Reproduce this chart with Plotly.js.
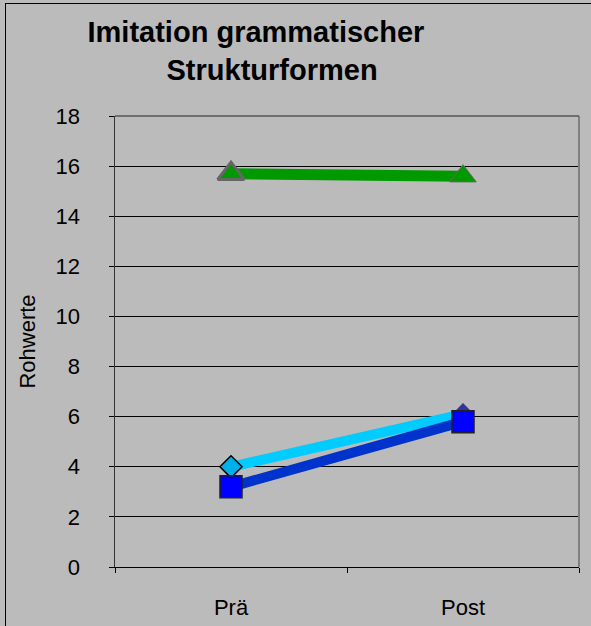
<!DOCTYPE html>
<html>
<head>
<meta charset="utf-8">
<script src="https://cdn.plot.ly/plotly-3.0.1.min.js"></script>
<style>
  html, body { margin: 0; padding: 0; background: #bbbbbb; overflow: hidden; }
  #chart { position: absolute; left: 0; top: 0; width: 591px; height: 626px; }
  #frame { position: absolute; left: 5px; top: 3px; width: 700px; height: 700px; border: 1px solid #000; pointer-events: none; }
</style>
</head>
<body>
<div id="chart"></div>
<div id="frame"></div>
<script>
// Data
const categories = ['Prä', 'Post'];
const seriesGreen = [15.7, 15.6];
const seriesCyan = [4.0, 6.1];
const seriesBlue = [3.2, 5.8];
const yTicks = [0, 2, 4, 6, 8, 10, 12, 14, 16, 18];

const font = 'Liberation Sans, Arial, sans-serif';

const traces = [
  {
    x: categories, y: seriesGreen, type: 'scatter', mode: 'lines+markers',
    line: { color: '#009900', width: 11 },
    marker: { symbol: 'triangle-up', size: 23, color: '#009900',
              line: { color: '#666666', width: [3, 1] } },
    hoverinfo: 'skip'
  },
  {
    x: categories, y: seriesCyan, type: 'scatter', mode: 'lines+markers',
    line: { color: '#00ccff', width: 10 },
    marker: { symbol: 'diamond', size: 17, color: ['#00b0ea', '#333399'],
              line: { color: ['#000000', '#333399'], width: [1.5, 0] } },
    hoverinfo: 'skip'
  },
  {
    x: categories, y: seriesBlue, type: 'scatter', mode: 'lines+markers',
    line: { color: '#0033cc', width: 10 },
    marker: { symbol: 'square', size: 22, color: '#0000ff',
              line: { color: '#222222', width: 1.5 } },
    hoverinfo: 'skip'
  }
];

const layout = {
  width: 591, height: 626,
  paper_bgcolor: '#bbbbbb', plot_bgcolor: '#bbbbbb',
  margin: { l: 115, r: 12, t: 116, b: 59, pad: 0 },
  showlegend: false,
  font: { family: font, size: 22, color: '#000' },
  title: {
    text: 'Imitation grammatischer\u00a0\u00a0<br>\u00a0\u00a0Strukturformen',
    font: { family: font, size: 29, color: '#000', weight: 'bold' },
    x: 264 / 591, xanchor: 'center', xref: 'container',
    y: 1 - 42 / 626, yanchor: 'top', yref: 'container'
  },
  xaxis: {
    type: 'category', range: [-0.5, 1.5],
    showgrid: false, zeroline: false,
    showline: true, linecolor: '#000', linewidth: 1,
    ticks: 'outside', tickson: 'boundaries', ticklen: 5, tickcolor: '#000', tickwidth: 1,
    ticklabelstandoff: 21,
    tickfont: { family: font, size: 22, color: '#000' },
    fixedrange: true
  },
  yaxis: {
    range: [0, 18], tickvals: yTicks, ticktext: yTicks.map(String),
    showgrid: true, gridcolor: '#000', gridwidth: 1, zeroline: false,
    showline: true, linecolor: '#333', linewidth: 1.5,
    ticks: 'outside', ticklen: 5, tickcolor: '#000', tickwidth: 1,
    ticklabelstandoff: 24,
    tickfont: { family: font, size: 22, color: '#000' },
    title: { text: 'Rohwerte', font: { family: font, size: 22, color: '#000' }, standoff: 14 },
    automargin: false,
    fixedrange: true
  },
  shapes: [
    { type: 'line', xref: 'paper', yref: 'paper', x0: 1, x1: 1, y0: 0, y1: 1,
      line: { color: '#808080', width: 2 } },
    { type: 'line', xref: 'paper', yref: 'paper', x0: 0, x1: 1, y0: 1, y1: 1,
      line: { color: '#555555', width: 1.5 } }
  ]
};

Plotly.newPlot('chart', traces, layout, { staticPlot: true, displayModeBar: false });
</script>
</body>
</html>
